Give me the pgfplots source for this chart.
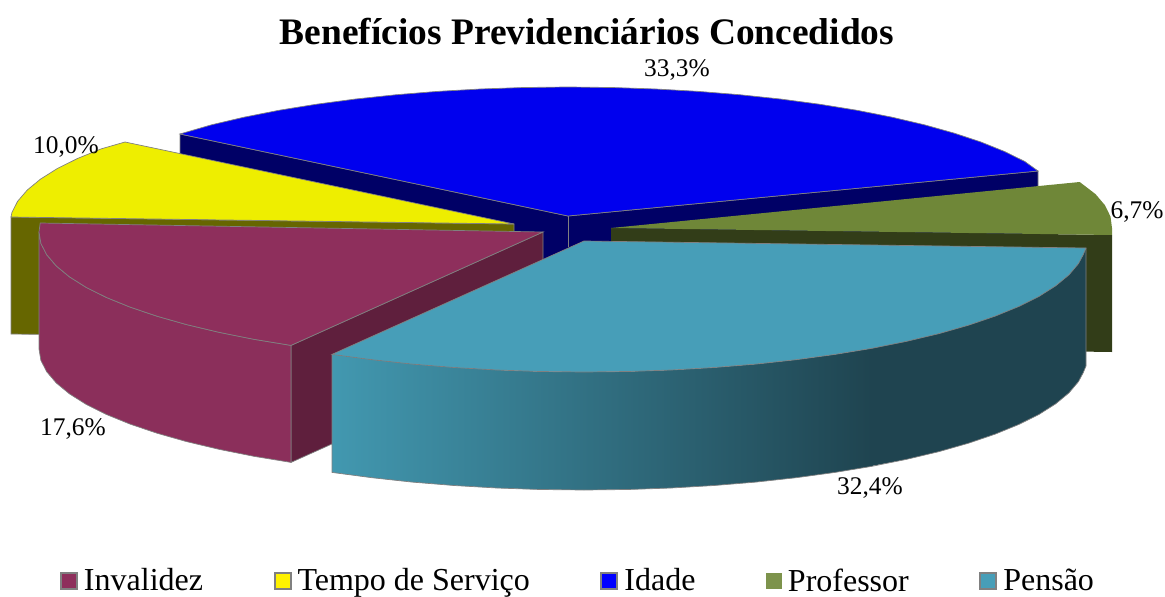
\documentclass[border=0pt]{standalone}
\usepackage{pgfplots}
\usepackage{fontspec}
\setmainfont{Liberation Serif}
\pgfplotsset{compat=1.18}
\definecolor{blueT}{HTML}{0000EE}
\definecolor{blueW}{HTML}{000066}
\definecolor{yelT}{HTML}{EEEE00}
\definecolor{yelW}{HTML}{666600}
\definecolor{grnT}{HTML}{6F8738}
\definecolor{grnW}{HTML}{323D18}
\definecolor{marT}{HTML}{8E2F5C}
\definecolor{marS}{HTML}{8B2F5B}
\definecolor{marW}{HTML}{5F1F3D}
\definecolor{tealT}{HTML}{479EB8}
\definecolor{tealA}{HTML}{4298B0}
\definecolor{tealB}{HTML}{37788E}
\definecolor{tealC}{HTML}{1F4450}
\definecolor{edge}{HTML}{808080}
\begin{document}
\begin{tikzpicture}
\path[use as bounding box] (0,0) rectangle (1165pt,597pt);
\begin{axis}[
  scale only axis, width=1165pt, height=597pt,
  xmin=0, xmax=1165, ymin=0, ymax=597, y dir=reverse,
  hide axis, clip=false,
  legend columns=5,
  legend style={at={(axis cs:60,580.5)}, anchor=west, draw=none, fill=none, inner sep=0pt, outer sep=0pt,
    font=\fontsize{32}{34}\selectfont,
    /tikz/every even column/.append style={column sep=68.5pt},
    /tikz/every odd column/.append style={column sep=4pt}},
  legend image code/.code={\path[#1] (0pt,-8pt) rectangle (16pt,8pt);},
  every axis plot/.append style={no markers},
]
% blue walls and top
\addplot[forget plot, fill=blueW, draw=edge, line width=0.7pt] coordinates {(180,134)(568,216)(1038,171)(1038,288)(568,333)(180,251)} --cycle;
\addplot[forget plot, draw=edge, line width=0.7pt] coordinates {(568,216)(568,247)};
\addplot[forget plot, fill=blueT, draw=edge, line width=0.7pt] coordinates {(568,216)(180,134)(211.6,124.8)(244,117.2)(278.9,110.3)(316,104.3)(355,99.1)(395.6,94.8)(437.6,91.4)(480.5,89)(524,87.5)(568,87)(611.9,87.5)(655.5,89)(698.4,91.4)(740.4,94.8)(781,99.1)(820,104.3)(857.1,110.3)(892,117.2)(924.4,124.8)(954,133.1)(980.9,142)(1004.5,151.5)(1024.8,161.5)(1038,171)} --cycle;
% yellow
\addplot[forget plot, fill=yelW, draw=edge, line width=0.7pt] coordinates {(11,217)(514,224)(514,341)(11,334)} --cycle;
\addplot[forget plot, fill=yelT, draw=edge, line width=0.7pt] coordinates {(514,224)(11,217)(11.9,212.6)(17.6,201.3)(27.2,190.1)(40.4,179.2)(57.2,168.6)(77.5,158.5)(101.1,148.9)(125,142)} --cycle;
% green
\addplot[forget plot, fill=grnW, draw=none] coordinates {(611,228)(1112,235)(1112,352)(611,345)} --cycle;
\addplot[forget plot, fill=grnT, draw=none] coordinates {(611,228)(1112,235)(1112,228)(1110.5,216.6)(1105,205.3)(1095.5,194.1)(1079.7,182)} --cycle;
% maroon
\addplot[forget plot, fill=marW, draw=edge, line width=0.7pt] coordinates {(291,345.4)(543,232)(543,349)(291,462.4)} --cycle;
\addplot[forget plot, fill=marS, draw=edge, line width=0.7pt] coordinates {(291,345.4)(253.9,339.3)(219,332.3)(186.6,324.6)(157,316.2)(130.1,307.1)(106.5,297.5)(86.2,287.4)(69.4,276.8)(56.2,265.9)(46.7,254.7)(40.9,243.4)(39,232)(39,349)(40.9,360.4)(46.7,371.7)(56.2,382.9)(69.4,393.8)(86.2,404.4)(106.5,414.5)(130.1,424.1)(157,433.2)(186.6,441.6)(219,449.3)(253.9,456.3)(291,462.4)} --cycle;
\addplot[forget plot, fill=marT, draw=edge, line width=0.7pt] coordinates {(543,232)(291,345.4)(253.9,339.3)(219,332.3)(186.6,324.6)(157,316.2)(130.1,307.1)(106.5,297.5)(86.2,287.4)(69.4,276.8)(56.2,265.9)(46.7,254.7)(40.9,243.4)(39,232)(40.2,223)} --cycle;
% teal side: flat dark right part, shaded left part
\addplot[forget plot, fill=tealC, draw=none] coordinates {(870,348.3)(906.7,341.3)(939,333.6)(968.5,325.2)(995.2,316.1)(1018.7,306.5)(1039,296.4)(1055.7,285.8)(1068.9,274.9)(1078.4,263.7)(1083.2,254.7)(1086,248)(1086,366)(1083.2,372.7)(1078.4,381.7)(1068.9,392.9)(1055.7,403.8)(1039,414.4)(1018.7,424.5)(995.2,434.1)(968.5,443.2)(939,451.6)(906.7,459.3)(870,466.3)} --cycle;
\addplot[forget plot, draw=none, shade, left color=tealA, middle color=tealB, right color=tealC] coordinates {(332,354.4)(371.9,359.7)(412.3,364.1)(454,367.5)(496.9,370)(540.2,371.5)(584,372)(627.8,371.5)(671.1,370)(714,367.5)(755.7,364.1)(796.1,359.7)(835,354.4)(872,348.3)(872,466.3)(835,472.4)(796.1,477.7)(755.7,482.1)(714,485.5)(671.1,488)(627.8,489.5)(584,490)(540.2,489.5)(496.9,488)(454,485.5)(412.3,482.1)(371.9,477.7)(332,472.4)} --cycle;
\addplot[forget plot, draw=edge, line width=0.7pt] coordinates {(332,354.4)(332,472.4)(371.9,477.7)(412.3,482.1)(454,485.5)(496.9,488)(540.2,489.5)(584,490)(627.8,489.5)(671.1,488)(714,485.5)(755.7,482.1)(796.1,477.7)(835,472.4)(872,466.3)(906.7,459.3)(939,451.6)(968.5,443.2)(995.2,434.1)(1018.7,424.5)(1039,414.4)(1055.7,403.8)(1068.9,392.9)(1078.4,381.7)(1083.2,372.7)(1086,366)(1086,248)};
\addplot[forget plot, fill=tealT, draw=edge, line width=0.7pt] coordinates {(584,241)(1086,248)(1083.2,254.7)(1078.4,263.7)(1068.9,274.9)(1055.7,285.8)(1039,296.4)(1018.7,306.5)(995.2,316.1)(968.5,325.2)(939,333.6)(906.7,341.3)(872,348.3)(835,354.4)(796.1,359.7)(755.7,364.1)(714,367.5)(671.1,370)(627.8,371.5)(584,372)(540.2,371.5)(496.9,370)(454,367.5)(412.3,364.1)(371.9,359.7)(332,354.4)} --cycle;
% legend
\addlegendimage{fill=marT, draw=edge, line width=2pt}\addlegendentry{Invalidez}
\addlegendimage{fill=yellow, draw=edge, line width=2pt}\addlegendentry{Tempo de Serviço}
\addlegendimage{fill=blue, draw=edge, line width=2pt}\addlegendentry{Idade}
\addlegendimage{fill=grnT!90!white, draw=none}\addlegendentry{Professor}
\addlegendimage{fill=tealT, draw=edge, line width=2pt}\addlegendentry{Pensão}
% text
\node[font=\fontsize{37.4}{39}\selectfont\bfseries] at (axis cs:587,32) {Benefícios Previdenciários Concedidos};
\node[font=\fontsize{25.4}{27}\selectfont] at (axis cs:677,70) {33,3\%};
\node[font=\fontsize{25.4}{27}\selectfont] at (axis cs:66,147) {10,0\%};
\node[font=\fontsize{25.4}{27}\selectfont] at (axis cs:1137,212) {6,7\%};
\node[font=\fontsize{25.4}{27}\selectfont] at (axis cs:73,429) {17,6\%};
\node[font=\fontsize{25.4}{27}\selectfont] at (axis cs:870,488) {32,4\%};
\end{axis}
\end{tikzpicture}
\end{document}
